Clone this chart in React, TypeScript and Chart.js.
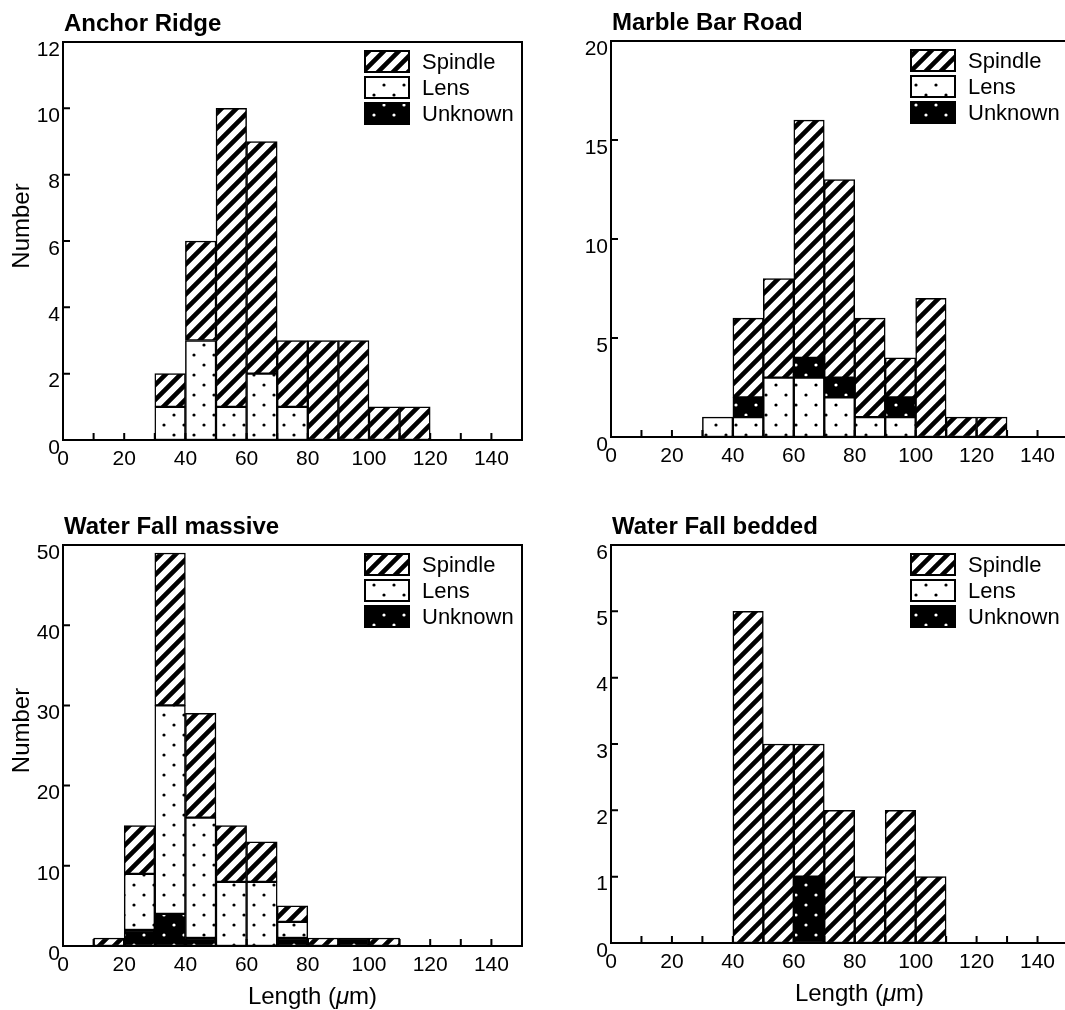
import React, { useEffect, useRef } from 'react';
import { Chart, registerables } from 'chart.js';

Chart.register(...registerables);

// ---------- DATA ----------
// bins of 10 µm: [0-10), [10-20), ... [140-150) ; value at bin centre
const binCenters = [5, 15, 25, 35, 45, 55, 65, 75, 85, 95, 105, 115, 125, 135, 145];

const anchorSpindle = [0, 0, 0, 1, 3, 9, 7, 2, 3, 3, 1, 1, 0, 0, 0];
const anchorLens = [0, 0, 0, 1, 3, 1, 2, 1, 0, 0, 0, 0, 0, 0, 0];
const anchorUnknown = [0, 0, 0, 0, 0, 0, 0, 0, 0, 0, 0, 0, 0, 0, 0];

const marbleSpindle = [0, 0, 0, 0, 4, 5, 12, 10, 5, 2, 7, 1, 1, 0, 0];
const marbleLens = [0, 0, 0, 1, 1, 3, 3, 2, 1, 1, 0, 0, 0, 0, 0];
const marbleUnknown = [0, 0, 0, 0, 1, 0, 1, 1, 0, 1, 0, 0, 0, 0, 0];

const massiveSpindle = [0, 1, 6, 19, 13, 7, 5, 2, 1, 0, 1, 0, 0, 0, 0];
const massiveLens = [0, 0, 7, 26, 15, 8, 8, 2, 0, 0, 0, 0, 0, 0, 0];
const massiveUnknown = [0, 0, 2, 4, 1, 0, 0, 1, 0, 1, 0, 0, 0, 0, 0];

const beddedSpindle = [0, 0, 0, 0, 5, 3, 2, 2, 1, 2, 1, 0, 0, 0, 0];
const beddedLens = [0, 0, 0, 0, 0, 0, 0, 0, 0, 0, 0, 0, 0, 0, 0];
const beddedUnknown = [0, 0, 0, 0, 0, 0, 1, 0, 0, 0, 0, 0, 0, 0, 0];

const seriesNames = ['Spindle', 'Lens', 'Unknown'];
const xMin = 0;
const xMax = 150;
const xStep = 10;
const xLabelEvery = 20;
const xLabelMax = 140;

const panelTitles = ['Anchor Ridge', 'Marble Bar Road', 'Water Fall massive', 'Water Fall bedded'];
const yMaxes = [12, 20, 50, 6];
const ySteps = [2, 5, 10, 1];
const yTitle = 'Number';
const xTitleParts = ['Length (', 'μ', 'm)'];

// ---------- PATTERNS ----------
function makeHatch(): CanvasPattern | string {
  const p = 15;
  const c = document.createElement('canvas');
  c.width = p; c.height = p;
  const ctx = c.getContext('2d')!;
  ctx.fillStyle = '#fff';
  ctx.fillRect(0, 0, p, p);
  ctx.strokeStyle = '#000';
  ctx.lineWidth = 4.6;
  ctx.beginPath();
  ctx.moveTo(-p, 2 * p); ctx.lineTo(2 * p, -p);
  ctx.moveTo(-p, p); ctx.lineTo(p, -p);
  ctx.moveTo(0, 2 * p); ctx.lineTo(2 * p, 0);
  ctx.stroke();
  return ctx.createPattern(c, 'repeat') || '#888';
}

function makeDots(bg: string, fg: string): CanvasPattern | string {
  const p = 20;
  const c = document.createElement('canvas');
  c.width = p; c.height = p;
  const ctx = c.getContext('2d')!;
  ctx.fillStyle = bg;
  ctx.fillRect(0, 0, p, p);
  ctx.fillStyle = fg;
  for (const [x, y] of [[4, 5], [14, 15]]) {
    ctx.beginPath();
    ctx.arc(x, y, 1.6, 0, Math.PI * 2);
    ctx.fill();
  }
  return ctx.createPattern(c, 'repeat') || bg;
}

const FONT = "'Liberation Sans', Arial, Helvetica, sans-serif";

type Geom = { left: number; top: number; right: number; bottom: number };

type PanelProps = {
  x: number; y: number; w: number; h: number;
  geom: Geom;
  title: string;
  yMax: number; yStep: number;
  series: { name: string; values: number[] }[]; // bottom-to-top stack order
  showYTitle: boolean;
  showXTitle: boolean;
};

function Panel(props: PanelProps) {
  const ref = useRef<HTMLCanvasElement | null>(null);
  useEffect(() => {
    const canvas = ref.current;
    if (!canvas) return;
    const patterns: Record<string, any> = {
      Spindle: makeHatch(),
      Lens: makeDots('#fff', '#000'),
      Unknown: makeDots('#000', '#fff'),
    };
    const { geom, w, h } = props;

    const datasets = props.series.map((s) => ({
      label: s.name,
      data: binCenters
        .map((c, i) => ({ x: c, y: s.values[i] }))
        .filter((d) => d.y > 0),
      backgroundColor: patterns[s.name],
      borderColor: '#000',
      borderWidth: 1.5,
      borderSkipped: false as const,
      barPercentage: 1,
      categoryPercentage: 1,
      stack: 'all',
    }));

    const decor = {
      id: 'decor',
      afterDatasetsDraw(chart: any) {
        const ctx: CanvasRenderingContext2D = chart.ctx;
        const a = chart.chartArea;
        const xs = chart.scales.x;
        const ys = chart.scales.y;
        ctx.save();
        ctx.strokeStyle = '#000';
        ctx.fillStyle = '#000';
        // box
        ctx.lineWidth = 2;
        ctx.strokeRect(a.left, a.top, a.right - a.left, a.bottom - a.top);
        // inward ticks
        ctx.lineWidth = 2;
        ctx.beginPath();
        xs.ticks.forEach((t: any) => {
          if (t.value <= xMin || t.value >= xMax) return;
          const px = xs.getPixelForValue(t.value);
          ctx.moveTo(px, a.bottom);
          ctx.lineTo(px, a.bottom - 7);
        });
        ys.ticks.forEach((t: any) => {
          if (t.value <= 0) return;
          const py = ys.getPixelForValue(t.value);
          ctx.moveTo(a.left, py);
          ctx.lineTo(a.left + 7, py);
        });
        ctx.stroke();
        // title
        ctx.font = `bold 24px ${FONT}`;
        ctx.textAlign = 'left';
        ctx.textBaseline = 'alphabetic';
        ctx.fillText(props.title, a.left + 1, a.top - 11);
        // y title
        if (props.showYTitle) {
          ctx.save();
          ctx.font = `24px ${FONT}`;
          ctx.translate(29, (a.top + a.bottom) / 2 - 15);
          ctx.rotate(-Math.PI / 2);
          ctx.textAlign = 'center';
          ctx.textBaseline = 'alphabetic';
          ctx.fillText(yTitle, 0, 0);
          ctx.restore();
        }
        // x title
        if (props.showXTitle) {
          const fonts = [`24px ${FONT}`, `italic 24px ${FONT}`, `24px ${FONT}`];
          let total = 0;
          const widths = xTitleParts.map((s, i) => {
            ctx.font = fonts[i];
            const m = ctx.measureText(s).width;
            total += m;
            return m;
          });
          let cx = (a.left + a.right) / 2 + 20 - total / 2;
          const by = a.bottom + 58;
          ctx.textAlign = 'left';
          xTitleParts.forEach((s, i) => {
            ctx.font = fonts[i];
            ctx.fillText(s, cx, by);
            cx += widths[i];
          });
        }
        // legend
        const bx = a.right - 157;
        let by = a.top + 9;
        ctx.font = `22px ${FONT}`;
        ctx.textBaseline = 'middle';
        ctx.textAlign = 'left';
        seriesNames.forEach((name) => {
          ctx.fillStyle = patterns[name];
          ctx.fillRect(bx, by, 44, 21);
          ctx.lineWidth = 2;
          ctx.strokeStyle = '#000';
          ctx.strokeRect(bx, by, 44, 21);
          ctx.fillStyle = '#000';
          ctx.fillText(name, bx + 57, by + 12);
          by += 26;
        });
        ctx.restore();
      },
    };

    const chart = new Chart(canvas, {
      type: 'bar',
      data: { datasets: datasets as any },
      options: {
        animation: false,
        responsive: false,
        devicePixelRatio: 1,
        layout: { padding: { left: 0, top: geom.top, right: w - geom.right, bottom: 0 } },
        plugins: {
          legend: { display: false },
          title: { display: false },
          tooltip: { enabled: false },
        },
        scales: {
          x: {
            type: 'linear',
            min: xMin,
            max: xMax,
            offset: false,
            stacked: true,
            grid: { display: false, drawTicks: false },
            border: { display: false },
            ticks: {
              stepSize: xStep,
              autoSkip: false,
              maxRotation: 0,
              color: '#000',
              padding: 7,
              font: { family: FONT, size: 21 },
              callback: (v: any) => (Number(v) % xLabelEvery === 0 && Number(v) <= xLabelMax ? String(v) : ''),
            },
            afterFit: (s: any) => { s.height = h - geom.bottom; },
          },
          y: {
            min: 0,
            max: props.yMax,
            stacked: true,
            grid: { display: false, drawTicks: false },
            border: { display: false },
            ticks: {
              stepSize: props.yStep,
              color: '#000',
              padding: 3,
              labelOffset: 8,
              font: { family: FONT, size: 21 },
            },
            afterFit: (s: any) => { s.width = geom.left; },
          },
        },
      },
      plugins: [decor],
    });
    return () => chart.destroy();
  }, []);

  return (
    <canvas
      ref={ref}
      width={props.w}
      height={props.h}
      style={{ position: 'absolute', left: props.x, top: props.y, width: props.w, height: props.h }}
    />
  );
}

export default function App() {
  const anchorSeries = [
    { name: 'Lens', values: anchorLens },
    { name: 'Unknown', values: anchorUnknown },
    { name: 'Spindle', values: anchorSpindle },
  ];
  const marbleSeries = [
    { name: 'Lens', values: marbleLens },
    { name: 'Unknown', values: marbleUnknown },
    { name: 'Spindle', values: marbleSpindle },
  ];
  const massiveSeries = [
    { name: 'Unknown', values: massiveUnknown },
    { name: 'Lens', values: massiveLens },
    { name: 'Spindle', values: massiveSpindle },
  ];
  const beddedSeries = [
    { name: 'Unknown', values: beddedUnknown },
    { name: 'Lens', values: beddedLens },
    { name: 'Spindle', values: beddedSpindle },
  ];
  return (
    <div style={{ position: 'fixed', left: 0, top: 0, width: 1065, height: 1010, overflow: 'hidden', background: '#fff' }}>
      <Panel x={0} y={0} w={532} h={490} geom={{ left: 63, top: 42, right: 522, bottom: 440 }}
        title={panelTitles[0]} yMax={yMaxes[0]} yStep={ySteps[0]} series={anchorSeries} showYTitle showXTitle={false} />
      <Panel x={532} y={0} w={545} h={490} geom={{ left: 79, top: 41, right: 536, bottom: 437 }}
        title={panelTitles[1]} yMax={yMaxes[1]} yStep={ySteps[1]} series={marbleSeries} showYTitle={false} showXTitle={false} />
      <Panel x={0} y={490} w={532} h={520} geom={{ left: 63, top: 55, right: 522, bottom: 456 }}
        title={panelTitles[2]} yMax={yMaxes[2]} yStep={ySteps[2]} series={massiveSeries} showYTitle showXTitle />
      <Panel x={532} y={490} w={545} h={520} geom={{ left: 79, top: 55, right: 536, bottom: 453 }}
        title={panelTitles[3]} yMax={yMaxes[3]} yStep={ySteps[3]} series={beddedSeries} showYTitle={false} showXTitle />
    </div>
  );
}
